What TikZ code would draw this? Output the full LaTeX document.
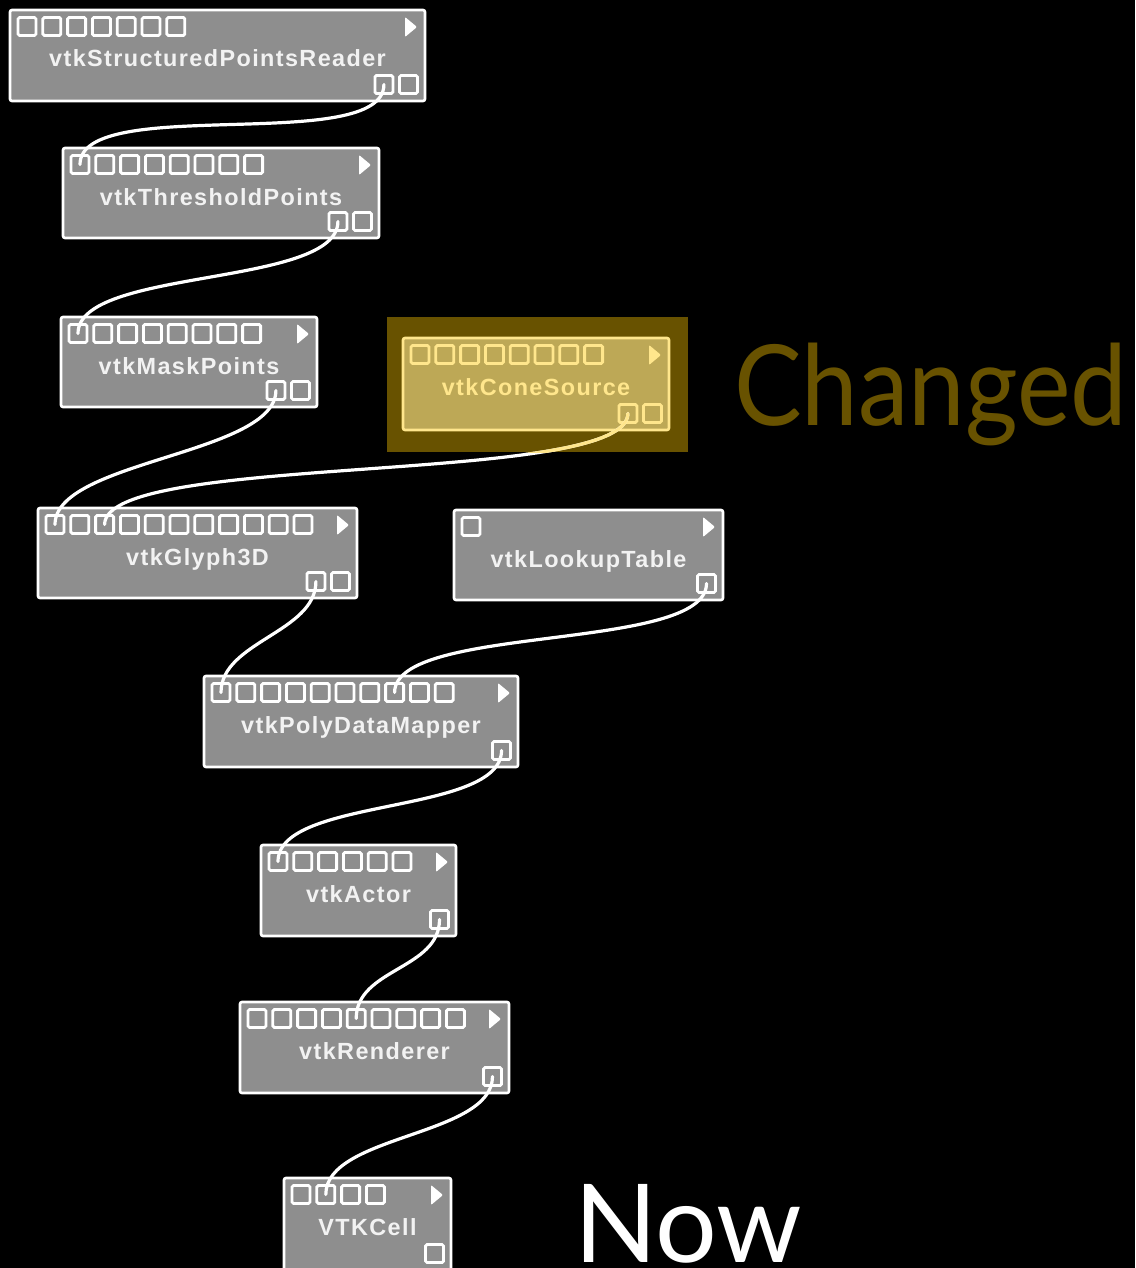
\documentclass[tikz,border=0pt]{standalone}
\usepackage{fontspec}
\setmainfont{Liberation Sans}
\newfontfamily\labelfont[LetterSpace=6]{Liberation Sans}
\newfontfamily\titlefont{Lato}

\definecolor{modgrey}{RGB}{142,142,142}
\definecolor{labelgrey}{RGB}{242,242,242}
\definecolor{conefill}{RGB}{189,168,86}
\definecolor{coneline}{RGB}{255,230,140}
\definecolor{hilite}{RGB}{104,82,0}
\colorlet{mline}{white}
\colorlet{mfill}{modgrey}
\colorlet{mtext}{labelgrey}

\tikzset{
  modbox/.style={draw=mline, fill=mfill, line width=2.6pt, rounded corners=2pt,
    inner sep=0pt, outer sep=0pt},
  modport/.style={draw=mline, line width=2.8pt, rounded corners=1.5pt,
    minimum size=18pt, inner sep=0pt, outer sep=0pt},
  modlabel/.style={text=mtext, font=\labelfont\bfseries\fontsize{23.4}{24}\selectfont,
    inner sep=0pt},
  wire/.style={draw=white, line width=3.2pt, line cap=round},
  bigword/.style={font=\titlefont\fontsize{112}{112}\selectfont, inner sep=0pt},
}

% module: name, left, top, right, bottom, label, #inputs, #outputs
\newcommand\vtkmodule[8]{%
  \node[modbox, minimum width={#4-#2}, minimum height={#5-#3}, anchor=north west]
    (#1) at (#2,#3) {};
  \node[modlabel, anchor=base] (#1-label) at ({(#2+#4)/2},{#3+57}) {#6};
  \foreach \i in {1,...,#7}{
    \node[modport] (#1-i\i) at ({#2+17+(\i-1)*24.8},{#3+16.5}) {};
  }
  \foreach \j in {1,...,#8}{
    \node[modport] (#1-o\j) at ({#4-16.5-(#8-\j)*24.6},{#5-16.5}) {};
  }
  \fill[mline, rounded corners=1pt] ({#4-20},{#3+7}) -- ({#4-20},{#3+27})
    -- ({#4-8},{#3+17}) -- cycle;
}

% connection from an output port down to an input port
\newcommand\vtkwire[4][]{%
  \draw[wire,#1] (#2.center) .. controls +(0,#4) and +(0,-#4) .. (#3.center);
}

\begin{document}
\begin{tikzpicture}[x=1pt, y=-1pt]
  \fill[black] (0,0) rectangle (1135,1268);
  \useasboundingbox (0,0) rectangle (1135,1268);

  % highlight behind the changed module
  \node[fill=hilite, minimum width=301pt, minimum height=135pt, inner sep=0pt,
    anchor=north west] (conehl) at (387,317) {};

  \vtkmodule{spr}{10}{10}{425}{101}{vtkStructuredPointsReader}{7}{2}
  \vtkmodule{tp}{63}{148}{379}{238}{vtkThresholdPoints}{8}{2}
  \vtkmodule{mp}{61}{317}{317}{407}{vtkMaskPoints}{8}{2}
  {
    \colorlet{mline}{coneline}\colorlet{mfill}{conefill}\colorlet{mtext}{coneline}
    \vtkmodule{cone}{403}{338}{669}{430}{vtkConeSource}{8}{2}
  }
  \vtkmodule{gly}{38}{508}{357}{598}{vtkGlyph3D}{11}{2}
  \vtkmodule{lut}{454}{510}{723}{600}{vtkLookupTable}{1}{1}
  \vtkmodule{pdm}{204}{676}{518}{767}{vtkPolyDataMapper}{10}{1}
  \vtkmodule{act}{261}{845}{456}{936}{vtkActor}{6}{1}
  \vtkmodule{ren}{240}{1002}{509}{1093}{vtkRenderer}{9}{1}
  \vtkmodule{cell}{284}{1178}{451}{1270}{VTKCell}{4}{1}

  % connections
  \vtkwire{spr-o1}{tp-i1}{71}
  \vtkwire{tp-o1}{mp-i1}{66}
  \vtkwire{mp-o1}{gly-i1}{64}
  \vtkwire{cone-o1}{gly-i3}{73}
  \begin{scope}
    \clip (conehl.north west) rectangle (conehl.south east);
    \vtkwire[draw=coneline]{cone-o1}{gly-i3}{73}
  \end{scope}
  \vtkwire{gly-o1}{pdm-i1}{51}
  \vtkwire{lut-o1}{pdm-i8}{69}
  \vtkwire{pdm-o1}{act-i1}{65}
  \vtkwire{act-o1}{ren-i5}{50}
  \vtkwire{ren-o1}{cell-i2}{60}

  % captions
  \node[bigword, text=hilite, anchor=base west] (changed) at (734,425)
    {\scalebox{0.905}[1]{Changed}};
  \node[bigword, text=white, anchor=base west, font=\titlefont\fontsize{109}{109}\selectfont]
    (now) at (574,1262) {Now};
\end{tikzpicture}
\end{document}
